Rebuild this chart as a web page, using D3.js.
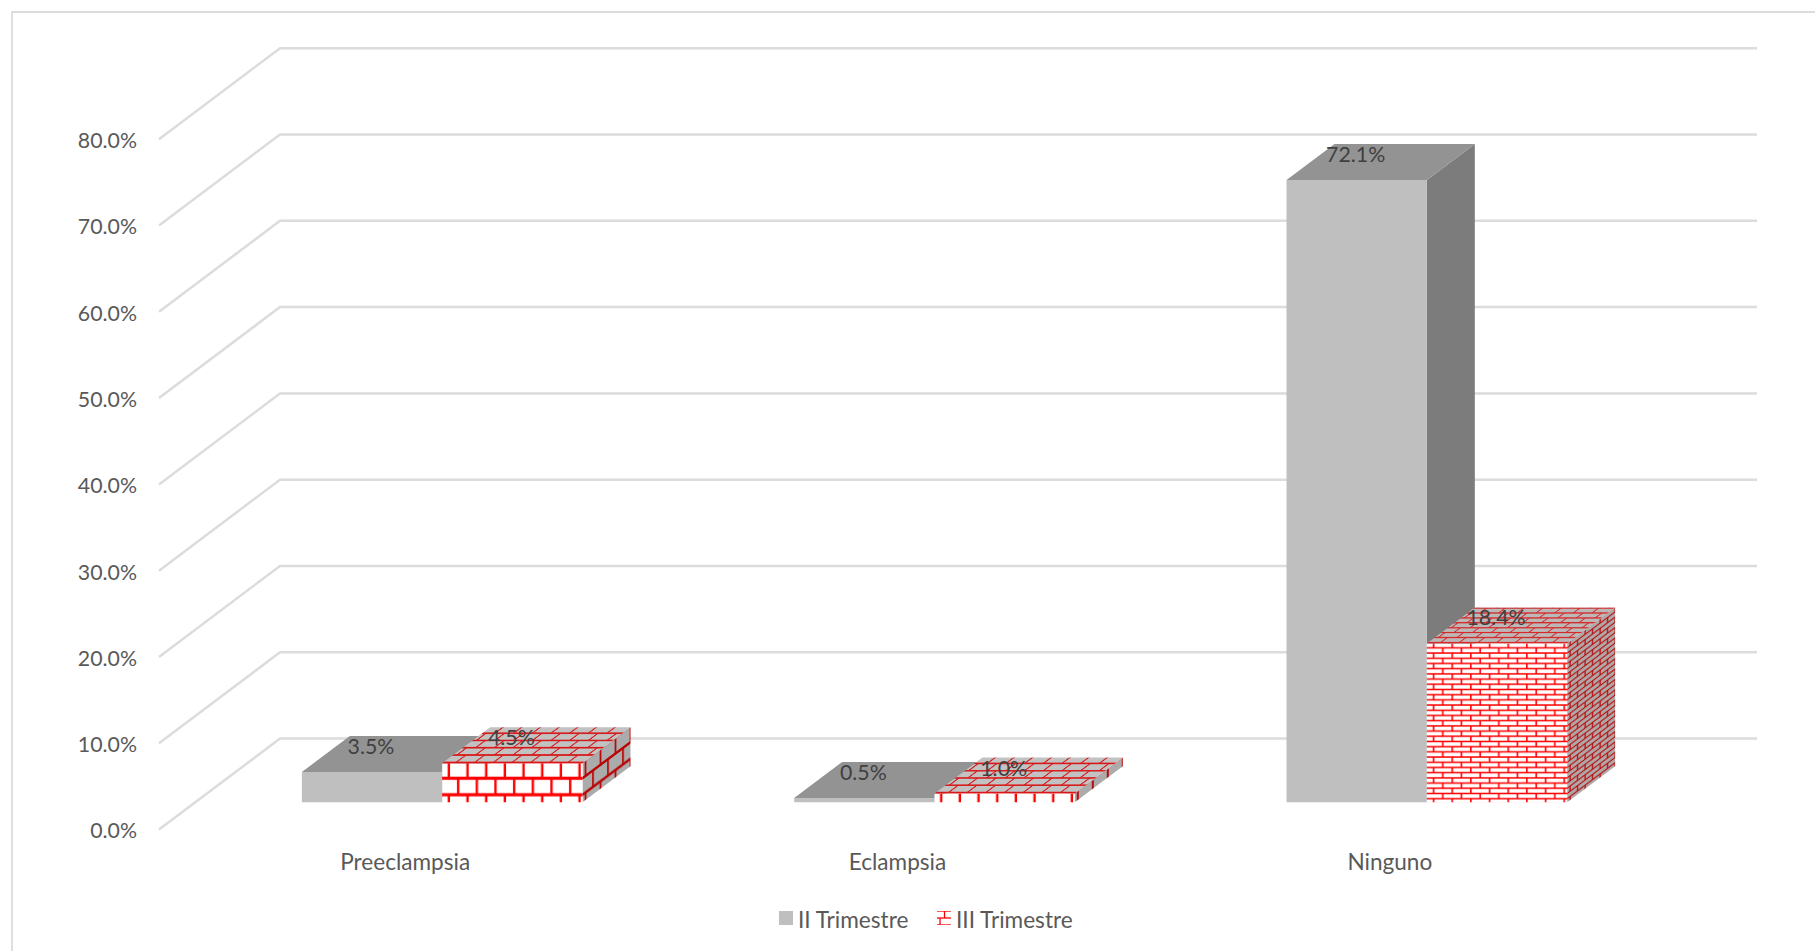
<!DOCTYPE html>
<html>
<head>
<meta charset="utf-8">
<script src="https://cdn.jsdelivr.net/npm/d3@7"></script>
<style>
html,body{margin:0;padding:0;background:#fff;overflow:hidden}
text{font-family:Lato,"Open Sans",sans-serif}
</style>
</head>
<body>
<svg id="chart" width="1815" height="951"></svg>
<script>
const categories = ["Preeclampsia", "Eclampsia", "Ninguno"];
const seriesNames = ["II Trimestre", "III Trimestre"];
const trimestreII = [3.5, 0.5, 72.1];
const trimestreIII = [4.5, 1.0, 18.4];
const axisTicks = [0, 10, 20, 30, 40, 50, 60, 70, 80];

const svg = d3.select("#chart");
const defs = svg.append("defs");
const W = 1815, H = 951;
const FONT_NUM = 21.3, FONT_TXT = 22.6;

// frame
svg.append("path").attr("d", `M12,${H} V12 H${W}`).attr("fill", "none")
  .attr("stroke", "#dcdcdc").attr("stroke-width", 1.8);

// 3D geometry
const wallDX = 121, wallDY = -91;
const yFront = d3.scaleLinear().domain([0, 80]).range([829.6, 139.2]);
const xFloorLeft = 159, xFloorRight = 1636;
const barDX = 48, barDY = -36;
const barLift = 27.4;
const x0 = d3.scaleBand().domain(categories).range([xFloorLeft + 37, xFloorRight + 37])
  .paddingInner(0.43).paddingOuter(0.215);
const x1 = d3.scaleBand().domain(seriesNames).range([0, x0.bandwidth()]);
const barY = v => yFront(v) - barLift;

// gridlines (side wall + back wall)
svg.append("g").selectAll("path").data(axisTicks).join("path")
  .attr("d", v => `M${xFloorLeft},${yFront(v)} L${xFloorLeft + wallDX},${yFront(v) + wallDY} H1757`)
  .attr("fill", "none").attr("stroke", "#dcdcdc").attr("stroke-width", 2.5);

// value axis
const axis = d3.axisLeft(yFront).tickValues(axisTicks).tickSize(0).tickPadding(0)
  .tickFormat(v => v.toFixed(1) + "%");
const axisG = svg.append("g").attr("transform", "translate(137,1.5)").call(axis);
axisG.select(".domain").remove();
axisG.selectAll("text").attr("fill", "#595959").style("font-size", FONT_NUM + "px").style("font-family", "Lato");

// brick pattern builder
let pid = 0;
function brick(tileW, rowH, lwH, lwV, bg, col, matrix, off1, off2) {
  const id = "b" + (pid++);
  const p = defs.append("pattern").attr("id", id).attr("patternUnits", "userSpaceOnUse")
    .attr("width", tileW).attr("height", rowH * 2).attr("patternTransform", matrix);
  p.append("rect").attr("width", tileW).attr("height", rowH * 2).attr("fill", bg);
  [0, rowH, rowH * 2].forEach(y => p.append("line").attr("x1", 0).attr("x2", tileW)
    .attr("y1", y).attr("y2", y).attr("stroke", col).attr("stroke-width", lwH));
  p.append("line").attr("x1", off1).attr("x2", off1).attr("y1", 0).attr("y2", rowH)
    .attr("stroke", col).attr("stroke-width", lwV);
  p.append("line").attr("x1", off2).attr("x2", off2).attr("y1", rowH).attr("y2", rowH * 2)
    .attr("stroke", col).attr("stroke-width", lwV);
  return `url(#${id})`;
}

const poly = pts => pts.map(p => p.join(",")).join(" ");
const rows = categories.map((c, i) => [
  { cat: c, s: seriesNames[0], v: trimestreII[i] },
  { cat: c, s: seriesNames[1], v: trimestreIII[i] }
]).flat();

const bars = svg.append("g");
rows.forEach(d => {
  const g = bars.append("g");
  const xl = x0(d.cat) + x1(d.s), w = x1.bandwidth(), xr = xl + w;
  const yb = barY(0), yt = barY(d.v);
  const front = [[xl, yt], [xr, yt], [xr, yb], [xl, yb]];
  const top = [[xl, yt], [xl + barDX, yt + barDY], [xr + barDX, yt + barDY], [xr, yt]];
  const side = [[xr, yt], [xr + barDX, yt + barDY], [xr + barDX, yb + barDY], [xr, yb]];
  let fFront = "#bfbfbf", fTop = "#939393", fSide = "#7c7c7c";
  if (d.s === seriesNames[1]) {
    const tall = d.v > 10;
    const rowF = tall ? 5.2 : 16.5;
    const lwF = tall ? 1.5 : 3.2;
    const lwV = tall ? 1.6 : 2.4;
    const k = barDX / barDY;
    fFront = brick(18.67, rowF, lwF, lwV, "#ffffff", "#ff0000",
      `translate(${xl},${yt - lwF / 2})`, 6.7, 16);
    const rowT = tall ? 4.9 : 7.3;
    fTop = brick(18.67, rowT, tall ? 1.3 : 1.6, tall ? 1.6 : 1.8,
      tall ? "#bdb8b8" : "#c2c2c2", tall ? "#d42a2a" : "#d81818",
      `translate(${xl},${yt - 1}) matrix(1,0,${k},1,0,0)`, 5, 14);
    fSide = brick(15, rowF, tall ? 1.3 : 3, tall ? 1.3 : 1.8,
      tall ? "#b0a8a8" : "#ababab", "#b80505",
      `translate(${xr},${yt - lwF / 2}) matrix(1,${1 / k},0,1,0,0)`, 3, 10.5);
  }
  g.append("polygon").attr("points", poly(side)).attr("fill", fSide);
  g.append("polygon").attr("points", poly(top)).attr("fill", fTop);
  g.append("polygon").attr("points", poly(front)).attr("fill", fFront);
});

// data labels
svg.append("g").selectAll("text").data(rows).join("text")
  .attr("x", d => x0(d.cat) + x1(d.s) + x1.bandwidth() / 2 - 1)
  .attr("y", d => barY(d.v) - 25.5)
  .attr("dy", "0.35em").attr("text-anchor", "middle")
  .attr("fill", "#404040").style("font-size", FONT_NUM + "px")
  .text(d => d.v.toFixed(1) + "%");

// category labels
svg.append("g").selectAll("text").data(categories).join("text")
  .attr("x", c => x0(c) + x0.bandwidth() / 2 - 37)
  .attr("y", 869.5).attr("text-anchor", "middle")
  .attr("fill", "#595959").style("font-size", FONT_TXT + "px").text(c => c);

// legend
const legX = [779, 937], legT = [798, 956];
const legend = svg.append("g");
const swatch = brick(14, 7, 1.3, 1.3, "#ffffff", "#ff0000", "translate(937,911)", 7.5, 3);
legend.selectAll("rect").data(seriesNames).join("rect")
  .attr("x", (d, i) => legX[i]).attr("y", 911).attr("width", 14).attr("height", 14)
  .attr("fill", (d, i) => i === 0 ? "#bfbfbf" : swatch);
legend.selectAll("text").data(seriesNames).join("text")
  .attr("x", (d, i) => legT[i]).attr("y", 927.5)
  .attr("fill", "#595959").style("font-size", FONT_TXT + "px").text(d => d);
</script>
</body>
</html>
